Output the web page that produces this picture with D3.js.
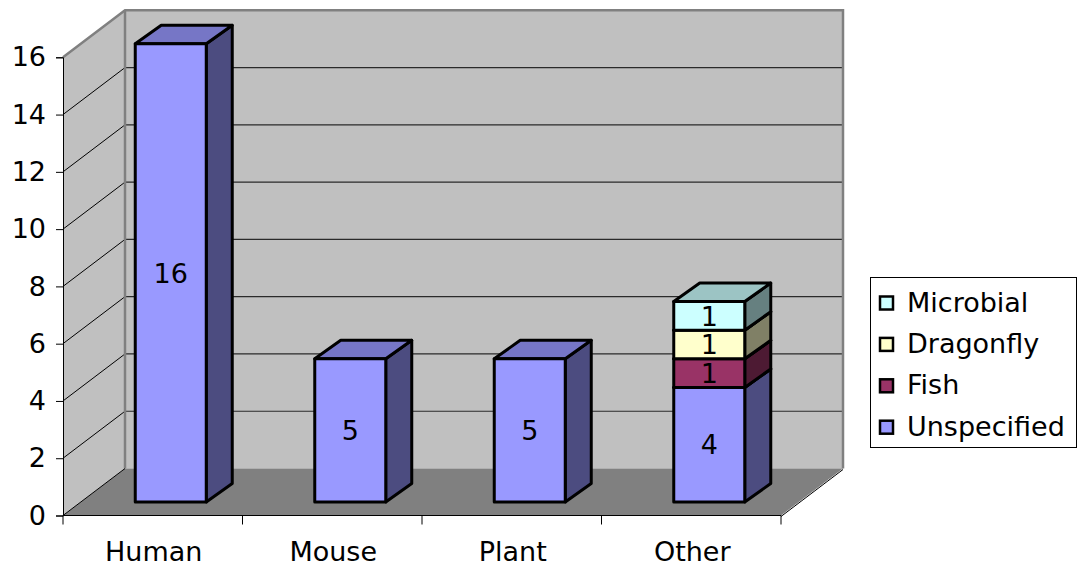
<!DOCTYPE html>
<html>
<head>
<meta charset="utf-8">
<script src="https://cdn.jsdelivr.net/npm/d3@7"></script>
<style>
  html, body { margin: 0; padding: 0; background: #fff; }
  svg { display: block; font-family: "DejaVu Sans", Verdana, sans-serif; }
</style>
</head>
<body>
<svg id="chart" width="1079" height="569"></svg>
<script>
// Data
const categories = ["Human", "Mouse", "Plant", "Other"];
const seriesNames = ["Unspecified", "Fish", "Dragonfly", "Microbial"];
const unspecified = [16, 5, 5, 4];
const fish = [0, 0, 0, 1];
const dragonfly = [0, 0, 0, 1];
const microbial = [0, 0, 0, 1];
const yTicks = [0, 2, 4, 6, 8, 10, 12, 14, 16];

// Face colours per series: front, side, top
const palette = {
  Unspecified: { front: "#9999FF", side: "#4C4C80", top: "#7676C6" },
  Fish:        { front: "#993366", side: "#4D1A33", top: "#782850" },
  Dragonfly:   { front: "#FFFFCC", side: "#808066", top: "#C4C49C" },
  Microbial:   { front: "#CCFFFF", side: "#668080", top: "#9CC4C4" }
};

const rows = categories.map((c, i) => ({
  category: c,
  Unspecified: unspecified[i],
  Fish: fish[i],
  Dragonfly: dragonfly[i],
  Microbial: microbial[i]
}));
const stacked = d3.stack().keys(seriesNames)(rows);

const svg = d3.select("#chart");

// Front plane of the plot
const x0 = 63, x1 = 781;
const x = d3.scaleBand().domain(categories).range([x0, x1]).padding(0);
const y = d3.scaleLinear().domain([0, 16]).range([515.5, 57.3]);

// Depth offset of back wall, bar placement and bar depth
const wallDX = 62, wallDY = -47;
const barShiftX = 18, barShiftY = -13.5;
const barDX = 26, barDY = -18.5;
const barW = 71;

const g = svg.append("g");

// Side wall
const yTop = y(16), yBot = y(0);
g.append("polygon")
  .attr("points", [[x0, yBot], [x0, yTop], [x0 + wallDX, yTop + wallDY], [x0 + wallDX, yBot + wallDY]].join(" "))
  .attr("fill", "#C0C0C0");
// Back wall
g.append("rect")
  .attr("x", x0 + wallDX).attr("y", yTop + wallDY)
  .attr("width", x1 - x0).attr("height", yBot - yTop)
  .attr("fill", "#C0C0C0");
// Floor
g.append("polygon")
  .attr("points", [[x0, yBot], [x1, yBot], [x1 + wallDX, yBot + wallDY], [x0 + wallDX, yBot + wallDY]].join(" "))
  .attr("fill", "#808080");

// Gridlines: side wall diagonals and back wall horizontals
yTicks.forEach(t => {
  if (t === 0) return;
  g.append("line")
    .attr("x1", x0).attr("y1", y(t))
    .attr("x2", x0 + wallDX).attr("y2", y(t) + wallDY)
    .attr("stroke", "#000").attr("stroke-width", 1);
  if (t < 16) {
    g.append("line")
      .attr("x1", x0 + wallDX).attr("y1", y(t) + wallDY)
      .attr("x2", x1 + wallDX).attr("y2", y(t) + wallDY)
      .attr("stroke", "#2a2a2a").attr("stroke-width", 1.2);
  }
});

// Wall outlines
g.append("path")
  .attr("d", `M${x0},${yTop} L${x0 + wallDX},${yTop + wallDY} L${x1 + wallDX},${yTop + wallDY} L${x1 + wallDX},${yBot + wallDY}`)
  .attr("fill", "none").attr("stroke", "#808080").attr("stroke-width", 2.5);
g.append("line")
  .attr("x1", x0 + wallDX).attr("y1", yTop + wallDY)
  .attr("x2", x0 + wallDX).attr("y2", yBot + wallDY)
  .attr("stroke", "#808080").attr("stroke-width", 2.5);
g.append("line")
  .attr("x1", x0).attr("y1", yBot)
  .attr("x2", x0 + wallDX).attr("y2", yBot + wallDY)
  .attr("stroke", "#000").attr("stroke-width", 1);
g.append("line")
  .attr("x1", x1).attr("y1", yBot + 1)
  .attr("x2", x1 + wallDX).attr("y2", yBot + wallDY + 1)
  .attr("stroke", "#000").attr("stroke-width", 1);

// Bars
const bars = svg.append("g");
stacked.forEach(layer => {
  const col = palette[layer.key];
  layer.forEach((d, i) => {
    const v = d[1] - d[0];
    if (v <= 0) return;
    const cx = x(categories[i]) + x.bandwidth() / 2 + barShiftX;
    const l = cx - barW / 2, r = cx + barW / 2;
    const yb = y(d[0]) + barShiftY, yt = y(d[1]) + barShiftY;
    const seg = bars.append("g");
    seg.append("polygon")
      .attr("points", [[r, yb], [r, yt], [r + barDX, yt + barDY], [r + barDX, yb + barDY]].join(" "))
      .attr("fill", col.side).attr("stroke", "#000").attr("stroke-width", 3).attr("stroke-linejoin", "round");
    seg.append("polygon")
      .attr("points", [[l, yt], [r, yt], [r + barDX, yt + barDY], [l + barDX, yt + barDY]].join(" "))
      .attr("fill", col.top).attr("stroke", "#000").attr("stroke-width", 3).attr("stroke-linejoin", "round");
    seg.append("rect")
      .attr("x", l).attr("y", yt).attr("width", barW).attr("height", yb - yt)
      .attr("fill", col.front).attr("stroke", "#000").attr("stroke-width", 3).attr("stroke-linejoin", "round");
    seg.append("text")
      .attr("x", cx).attr("y", (yb + yt) / 2)
      .attr("dy", "0.36em")
      .attr("text-anchor", "middle")
      .attr("font-size", 27)
      .attr("fill", "#000")
      .text(v);
  });
});

// Value axis
const yAxis = svg.append("g")
  .attr("transform", `translate(${x0},0)`)
  .call(d3.axisLeft(y).tickValues(yTicks).tickSize(7).tickPadding(10).tickFormat(d3.format("d")));
yAxis.select(".domain").attr("stroke", "#000").attr("stroke-width", 1);
yAxis.selectAll(".tick line").attr("stroke", "#000");
yAxis.selectAll(".tick text")
  .attr("font-size", 27).attr("font-family", "DejaVu Sans, Verdana, sans-serif").attr("fill", "#000");

// Category axis
const xAxis = svg.append("g")
  .attr("transform", `translate(0,${yBot})`);
xAxis.append("line")
  .attr("x1", x0).attr("x2", x1).attr("y1", 0).attr("y2", 0)
  .attr("stroke", "#000").attr("stroke-width", 1);
const edges = categories.map(c => x(c)).concat([x1]);
xAxis.selectAll("line.tick").data(edges).enter().append("line")
  .attr("class", "tick")
  .attr("x1", d => d).attr("x2", d => d).attr("y1", 0).attr("y2", 9)
  .attr("stroke", "#000").attr("stroke-width", 1);
xAxis.selectAll("text").data(categories).enter().append("text")
  .attr("x", d => x(d) + x.bandwidth() / 2 + 1)
  .attr("y", 45.5)
  .attr("text-anchor", "middle")
  .attr("font-size", 27)
  .attr("fill", "#000")
  .text(d => d);

// Legend
const legend = svg.append("g");
legend.append("rect")
  .attr("x", 870.5).attr("y", 277.5).attr("width", 206).attr("height", 170)
  .attr("fill", "#fff").attr("stroke", "#000").attr("stroke-width", 1);
const legendOrder = seriesNames.slice().reverse();
legendOrder.forEach((name, i) => {
  const base = 311.5 + i * 41.4;
  legend.append("rect")
    .attr("x", 880).attr("y", base - 15).attr("width", 13).attr("height", 13)
    .attr("fill", palette[name].front).attr("stroke", "#000").attr("stroke-width", 2.5);
  legend.append("text")
    .attr("x", 907).attr("y", base)
    .attr("font-size", 27).attr("fill", "#000")
    .text(name);
});
</script>
</body>
</html>
